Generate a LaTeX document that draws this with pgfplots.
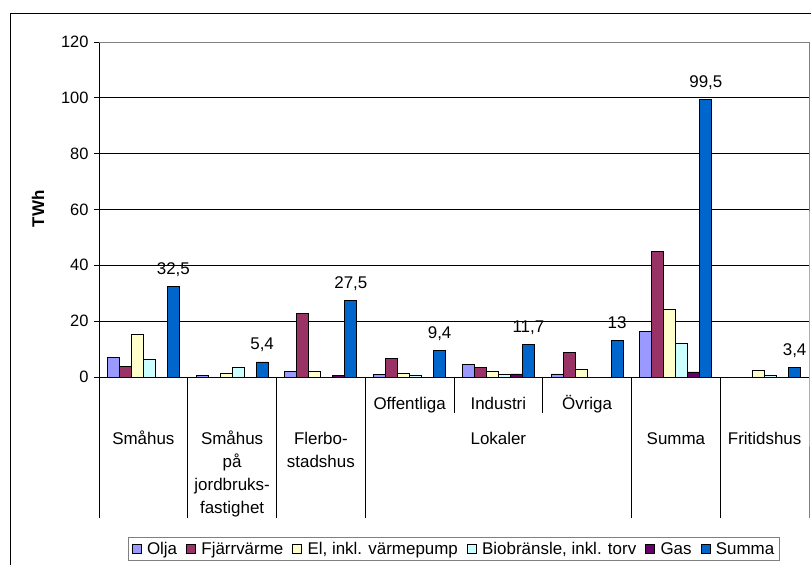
\documentclass[border=0pt]{standalone}
\usepackage{pgfplots}
\pgfplotsset{compat=1.18}
\usepackage{pgfplotstable}
\usepackage{fontspec}
\setmainfont{Liberation Sans}

\definecolor{cOlja}{HTML}{9999FF}
\definecolor{cFj}{HTML}{993366}
\definecolor{cEl}{HTML}{FFFFCC}
\definecolor{cBio}{HTML}{CCFFFF}
\definecolor{cGas}{HTML}{660066}
\definecolor{cSum}{HTML}{0066CC}
\definecolor{cBorder}{HTML}{808080}

\pgfplotstableread{
x Olja Fj El Bio Gas Summa
0 7.1 3.8 15.4 6.3 0 32.5
1 0.5 0 1.4 3.5 0 5.4
2 2.0 22.9 2.0 0 0.6 27.5
3 1.0 6.5 1.4 0.5 0 9.4
4 4.4 3.3 1.9 1.0 1.1 11.7
5 1.1 8.9 2.9 0 0 13
6 16.2 45.1 24.3 11.9 1.8 99.5
7 0 0 2.4 0.6 0 3.4
}\datatable

\newcommand{\lf}{\fontsize{17}{20}\selectfont}
\newcommand{\tf}{\fontsize{16.5}{19}\selectfont}

\begin{document}
\begin{tikzpicture}
\path[use as bounding box] (0,0) rectangle (811bp,565bp);
\begin{axis}[
  at={(99bp,188bp)}, anchor=south west,
  scale only axis, width=710bp, height=335bp,
  xmin=-0.5, xmax=7.5, ymin=0, ymax=120,
  ybar=0pt, bar width=12bp,
  xtick=\empty,
  ytick={0,20,...,120},
  ymajorgrids, grid style={black, line width=0.8bp},
  axis x line*=bottom, axis y line*=left,
  axis line style={black, line width=0.8bp, -},
  tick align=outside, major tick length=5bp, tick style={black, line width=0.8bp},
  tick label style={font=\tf},
  yticklabel style={xshift=-2bp},
  /pgf/number format/assume math mode=true,
  /pgf/number format/use comma,
  clip=false,
  legend columns=6,
  legend style={at={(0.5,-0.478)}, anchor=north, draw=cBorder, line width=0.8bp, font=\lf,
    inner xsep=3bp, inner ysep=2.5bp,
    nodes={inner xsep=2bp, inner ysep=2bp},
    /tikz/every odd column/.append style={column sep=3.5bp},
    /tikz/every even column/.append style={column sep=7bp}},
  legend image code/.code={\draw[#1, draw=black, line width=0.8bp] (0bp,-4.5bp) rectangle (9bp,4.5bp);},
  every axis plot/.append style={draw=black, line width=0.8bp},
]
\addplot[fill=cOlja] table[x=x,y=Olja]{\datatable};
\addlegendentry{Olja}
\addplot[fill=cFj] table[x=x,y=Fj]{\datatable};
\addlegendentry{Fjärrvärme}
\addplot[fill=cEl] table[x=x,y=El]{\datatable};
\addlegendentry{El, inkl. värmepump}
\addplot[fill=cBio] table[x=x,y=Bio]{\datatable};
\addlegendentry{Biobränsle, inkl. torv}
\addplot[fill=cGas] table[x=x,y=Gas]{\datatable};
\addlegendentry{Gas}
\addplot[fill=cSum, nodes near coords,
  every node near coord/.append style={anchor=base, yshift=12bp, inner sep=0pt, text=black, font=\lf}]
  table[x=x,y=Summa]{\datatable};
\addlegendentry{Summa}

% plot-area border (grey) and category table lines
\draw[cBorder, line width=0.8bp] (axis cs:-0.5,120) -- (axis cs:7.5,120) -- (axis cs:7.5,0) -- ++(0bp,-141bp);
\draw[black, line width=0.8bp] (axis cs:-0.5,0) -- ++(0bp,-141bp);
\draw[black, line width=0.8bp] (axis cs:0.5,0) -- ++(0bp,-141bp);
\draw[black, line width=0.8bp] (axis cs:1.5,0) -- ++(0bp,-141bp);
\draw[black, line width=0.8bp] (axis cs:2.5,0) -- ++(0bp,-141bp);
\draw[black, line width=0.8bp] (axis cs:5.5,0) -- ++(0bp,-141bp);
\draw[black, line width=0.8bp] (axis cs:6.5,0) -- ++(0bp,-141bp);
\draw[black, line width=0.8bp] (axis cs:3.5,0) -- ++(0bp,-36bp);
\draw[black, line width=0.8bp] (axis cs:4.5,0) -- ++(0bp,-36bp);
% category labels
\node[anchor=base, font=\lf, yshift=-32bp] at (axis cs:3,0) {Offentliga};
\node[anchor=base, font=\lf, yshift=-32bp] at (axis cs:4,0) {Industri};
\node[anchor=base, font=\lf, yshift=-32bp] at (axis cs:5,0) {Övriga};
\node[anchor=base, font=\lf, yshift=-67bp] at (axis cs:0,0) {Småhus};
\node[anchor=base, font=\lf, yshift=-67bp] at (axis cs:1,0) {Småhus};
\node[anchor=base, font=\lf, yshift=-90bp] at (axis cs:1,0) {på};
\node[anchor=base, font=\lf, yshift=-113bp] at (axis cs:1,0) {jordbruks-};
\node[anchor=base, font=\lf, yshift=-136bp] at (axis cs:1,0) {fastighet};
\node[anchor=base, font=\lf, yshift=-67bp] at (axis cs:2,0) {Flerbo-};
\node[anchor=base, font=\lf, yshift=-90bp] at (axis cs:2,0) {stadshus};
\node[anchor=base, font=\lf, yshift=-67bp] at (axis cs:4,0) {Lokaler};
\node[anchor=base, font=\lf, yshift=-67bp] at (axis cs:6,0) {Summa};
\node[anchor=base, font=\lf, yshift=-67bp] at (axis cs:7,0) {Fritidshus};
\end{axis}
\node[rotate=90, font=\lf\bfseries] at (38bp,356bp) {TWh};
\draw[black, line width=1bp] (10bp,0bp) -- (10bp,551bp) -- (811bp,551bp);
\end{tikzpicture}
\end{document}
